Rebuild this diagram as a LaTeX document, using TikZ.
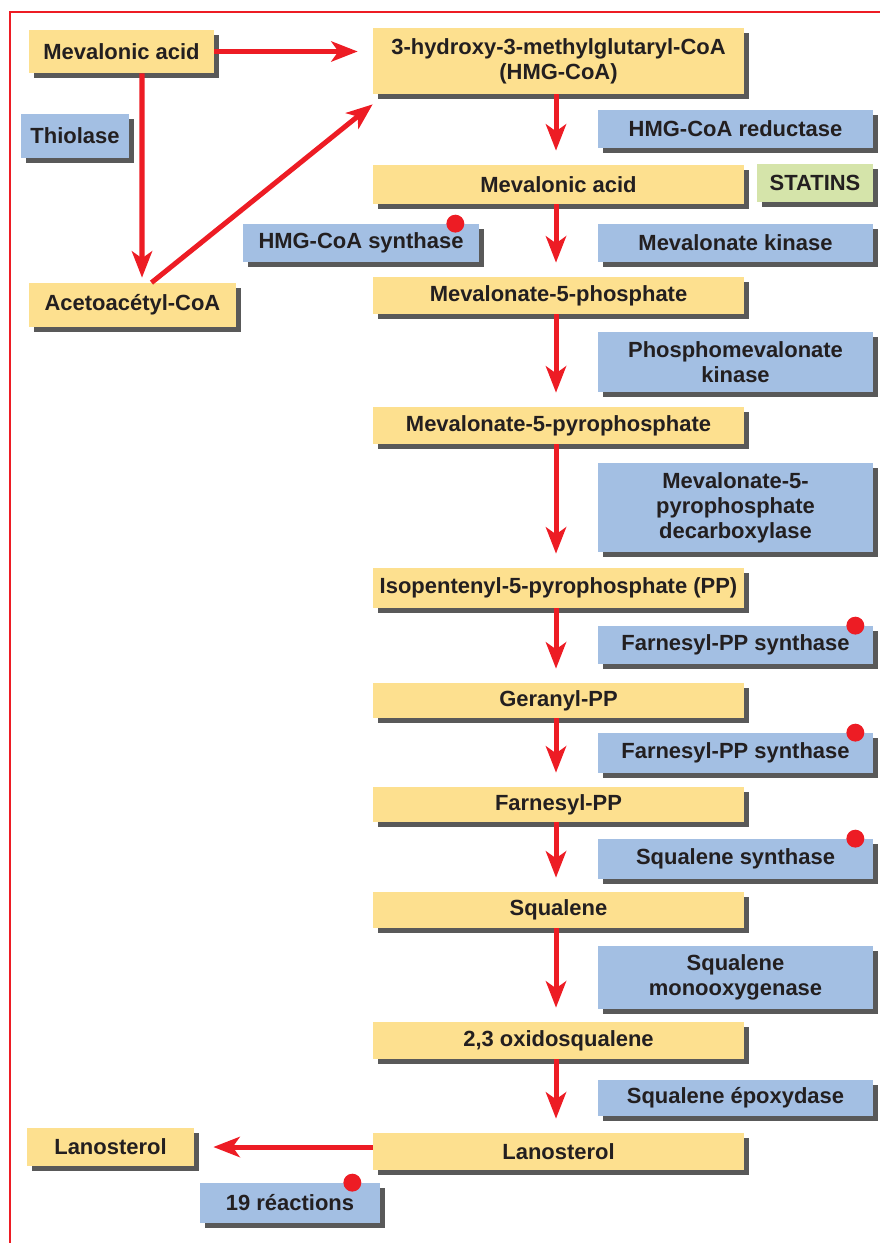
\documentclass[tikz,border=0pt]{standalone}
\usepackage{fontspec}
\setmainfont{Liberation Sans}
\usetikzlibrary{arrows.meta,shadows}
\definecolor{metabfill}{HTML}{FDE08F}
\definecolor{enzfill}{HTML}{A3BFE3}
\definecolor{statfill}{HTML}{D5E4AA}
\definecolor{pathred}{HTML}{ED1C24}
\definecolor{inktext}{HTML}{231F20}
\newdimen\pu \pu=0.5691pt

\tikzset{
  box/.style={inner sep=0pt, align=center, text=inktext,
    font=\fontsize{12.5}{14.3}\selectfont\bfseries,
    drop shadow={shadow xshift=3pt, shadow yshift=-3pt, fill=black!72, opacity=.9}},
  metab/.style={box, fill=metabfill},
  enzyme/.style={box, fill=enzfill},
  inhibitor/.style={box, fill=statfill},
  mainbox/.style={metab, minimum width=371\pu},
  sidebox/.style={enzyme, minimum width=275\pu},
  flow/.style={draw=pathred, line width=2.85pt, -{Stealth[length=15pt, width=11.5pt, inset=4pt]}},
  blockdot/.style={circle, fill=pathred, inner sep=0pt, minimum size=10.2pt},
}

\begin{document}
\begin{tikzpicture}[x=0.02cm, y=-0.02cm]
\useasboundingbox (0,0) rectangle (880,1243);
% frame
\draw[pathred, line width=1.4pt] (10,1243) -- (10,12) -- (880,12);
% left branch
\node[metab, minimum width=185\pu, minimum height=43\pu] (mevL) at (121.5,51.5) {Mevalonic acid};
\node[enzyme, minimum width=108\pu, minimum height=44\pu] (thio) at (75,136) {Thiolase};
\node[metab, minimum width=207\pu, minimum height=44\pu] (aceto) at (132.5,305) {Acetoacétyl-CoA};
\node[enzyme, minimum width=236\pu, minimum height=38\pu] (hmgs) at (361,243) {HMG-CoA synthase};
% main pathway
\node[mainbox, minimum height=66\pu] (hmg) at (558.5,61) {3-hydroxy-3-methylglutaryl-CoA\\(HMG-CoA)};
\node[mainbox, minimum height=39\pu] (mev) at (558.5,184.5) {Mevalonic acid};
\node[mainbox, minimum height=37\pu] (mvp) at (558.5,295.5) {Mevalonate-5-phosphate};
\node[mainbox, minimum height=37\pu] (mvpp) at (558.5,425.5) {Mevalonate-5-pyrophosphate};
\node[mainbox, minimum height=40\pu] (ipp) at (558.5,588) {Isopentenyl-5-pyrophosphate (PP)};
\node[mainbox, minimum height=35\pu] (gpp) at (558.5,700.5) {Geranyl-PP};
\node[mainbox, minimum height=35\pu] (fpp) at (558.5,804.5) {Farnesyl-PP};
\node[mainbox, minimum height=36\pu] (sq) at (558.5,910) {Squalene};
\node[mainbox, minimum height=37\pu] (oxsq) at (558.5,1040.5) {2,3 oxidosqualene};
\node[mainbox, minimum height=37\pu] (lano) at (558.5,1151.5) {Lanosterol};
% enzymes
\node[sidebox, minimum height=38\pu] (red) at (735.5,129) {HMG-CoA reductase};
\node[inhibitor, minimum width=116\pu, minimum height=38\pu] (statins) at (815,183) {STATINS};
\node[sidebox, minimum height=38\pu] (mk) at (735.5,243) {Mevalonate kinase};
\node[sidebox, minimum height=60\pu] (pmk) at (735.5,362) {Phosphomevalonate\\kinase};
\node[sidebox, minimum height=89\pu] (dec) at (735.5,507.5) {Mevalonate-5-\\pyrophosphate\\decarboxylase};
\node[sidebox, minimum height=38\pu] (fps1) at (735.5,645) {Farnesyl-PP synthase};
\node[sidebox, minimum height=40\pu] (fps2) at (735.5,753) {Farnesyl-PP synthase};
\node[sidebox, minimum height=40\pu] (sqs) at (735.5,859) {Squalene synthase};
\node[sidebox, minimum height=63\pu] (sqm) at (735.5,977.5) {Squalene\\monooxygenase};
\node[sidebox, minimum height=36\pu] (sqe) at (735.5,1098) {Squalene époxydase};
% end branch
\node[metab, minimum width=167\pu, minimum height=38\pu] (lanoL) at (110.5,1147) {Lanosterol};
\node[enzyme, minimum width=180\pu, minimum height=40\pu] (react) at (290,1203) {19 réactions};
% red dots
\node[blockdot] (d1) at ([xshift=-24\pu]hmgs.north east) {};
\node[blockdot] (d2) at ([xshift=-18\pu]fps1.north east) {};
\node[blockdot] (d3) at ([xshift=-18\pu]fps2.north east) {};
\node[blockdot] (d4) at ([xshift=-18\pu]sqs.north east) {};
\node[blockdot] (d5) at ([xshift=-28\pu]react.north east) {};
% arrows
\draw[flow, shorten >=15\pu] (mevL.east) -- (mevL.east -| hmg.west);
\draw[flow, shorten >=5\pu] ([xshift=20.5\pu]mevL.south) -- ([xshift=9.5\pu]aceto.north);
\draw[flow] ([xshift=19\pu]aceto.north) -- ([yshift=-10\pu]hmg.south west);
\coordinate (spine) at (556,0);
\foreach \a/\b in {hmg/mev, mev/mvp, mvp/mvpp, mvpp/ipp, ipp/gpp, gpp/fpp, fpp/sq, sq/oxsq, oxsq/lano}
  \draw[flow, shorten >=14\pu] (\a.south -| spine) -- (\b.north -| spine);
\draw[flow, shorten >=19\pu] (lanoL.east -| lano.west) -- (lanoL.east);
\end{tikzpicture}
\end{document}
